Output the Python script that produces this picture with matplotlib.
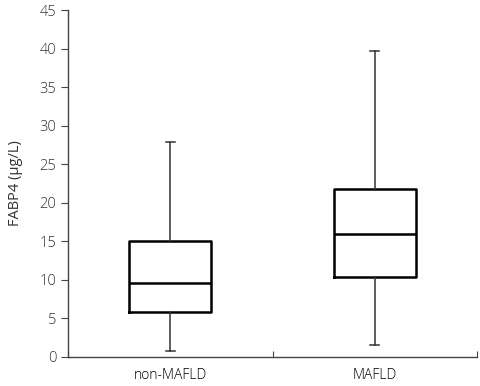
import matplotlib
matplotlib.use("Agg")
import matplotlib.pyplot as plt

# values (ug/L)
groups = ["non-MAFLD", "MAFLD"]
whisker_low = [0.8, 1.5]
q1 = [5.9, 10.4]
median = [9.6, 15.95]
q3 = [15.1, 21.8]
whisker_high = [27.9, 39.7]

plt.rcParams['font.family'] = ['Open Sans', 'DejaVu Sans']
plt.rcParams['font.weight'] = 'light'

stats = []
for i, name in enumerate(groups):
    stats.append({
        'label': name,
        'whislo': whisker_low[i],
        'q1': q1[i],
        'med': median[i],
        'q3': q3[i],
        'whishi': whisker_high[i],
        'fliers': [],
    })

fig = plt.figure(figsize=(4.8, 3.86), dpi=100)
ax = fig.add_axes([68 / 480, 1 - 357 / 386, (477 - 68) / 480, (357 - 10) / 386])

positions = [0.5, 1.5]
ax.bxp(stats, positions=positions, widths=0.40, showfliers=False,
       boxprops=dict(color='black', linewidth=1.8),
       medianprops=dict(color='black', linewidth=1.8),
       whiskerprops=dict(color='#333333', linewidth=1.1),
       capprops=dict(color='#333333', linewidth=1.1),
       capwidths=0.045)

ax.set_xlim(0, 2)
ax.set_ylim(0, 45)
ax.set_yticks(range(0, 46, 5))
ax.set_xticks([0, 1, 2])
ax.set_xticklabels([])
ax.set_xticks(positions, minor=True)
ax.set_xticklabels(groups, minor=True)
ax.tick_params(axis='x', which='minor', length=0, pad=8)
ax.tick_params(axis='x', which='major', direction='in', length=4, color='#444444')
ax.tick_params(axis='y', length=5, color='#444444')
ax.tick_params(labelsize=10.5, labelcolor='#333333')

for side in ['top', 'right']:
    ax.spines[side].set_visible(False)
for side in ['left', 'bottom']:
    ax.spines[side].set_color('#444444')
    ax.spines[side].set_linewidth(1.0)

ax.set_ylabel('FABP4 (μg/L)', fontsize=10.5, color='#333333', labelpad=12)

fig.savefig('out.png', dpi=100)
